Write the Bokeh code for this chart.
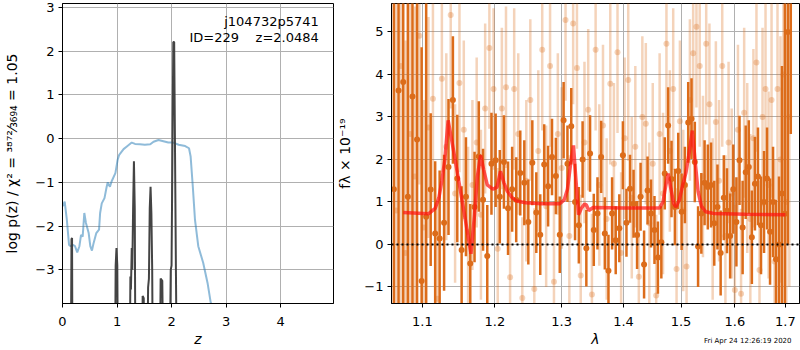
from bokeh.plotting import figure
from bokeh.layouts import row
from bokeh.models import (Range1d, FixedTicker, CustomJSTickFormatter, Label, Span,
                          ColumnDataSource, Title)
from bokeh.embed import file_html
from bokeh.resources import INLINE

FONT = "DejaVu Sans"

# ---------------- left panel: log p(z) ----------------
z_chi2 = [0.0, 0.04, 0.08, 0.12, 0.15, 0.19, 0.23, 0.27, 0.31, 0.34, 0.37, 0.40, 0.43, 0.48,
          0.51, 0.54, 0.57, 0.62, 0.67, 0.69, 0.72, 0.77, 0.81, 0.83, 0.87, 0.90, 0.97, 1.01,
          1.04, 1.12, 1.18, 1.27, 1.33, 1.42, 1.51, 1.61, 1.67, 1.76, 1.85, 1.94, 2.03, 2.13,
          2.25, 2.32, 2.35, 2.39, 2.43, 2.49, 2.58, 2.66, 2.72, 2.85]
logp_chi2 = [-1.55, -1.44, -1.86, -2.43, -2.46, -2.43, -2.46, -2.60, -2.46, -2.20, -2.24, -1.70,
             -1.93, -2.16, -2.46, -2.56, -2.39, -2.16, -2.08, -1.70, -1.48, -1.36, -1.10, -1.00,
             -1.10, -0.98, -0.79, -0.49, -0.37, -0.24, -0.18, -0.09, -0.12, -0.13, -0.14, -0.13,
             -0.07, -0.03, -0.06, -0.09, -0.09, -0.14, -0.17, -0.22, -0.41, -1.10, -1.86, -2.46,
             -2.84, -3.30, -3.76, -4.60]

z_pz = [0.0, 0.15, 0.165, 0.175, 0.185, 0.96, 0.975, 0.99, 1.005, 1.02, 1.23, 1.245, 1.255,
        1.27, 1.28, 1.295, 1.31, 1.325, 1.34, 1.46, 1.47, 1.49, 1.50, 1.55, 1.57, 1.585, 1.60,
        1.615, 1.63, 1.645, 1.66, 1.78, 1.80, 1.83, 1.855, 1.96, 1.985, 2.0, 2.02, 2.032, 2.048,
        2.06, 2.08, 2.10, 5.0]
logp_pz = [-6, -6, -2.3, -2.27, -6, -6, -2.9, -2.5, -2.9, -6, -6, -3.15, -3.45, -2.5, -3.0,
           -1.6, -0.52, -1.6, -6, -6, -3.6, -3.65, -6, -6, -3.4, -3.2, -1.6, -1.1, -1.7, -3.0,
           -6, -6, -3.2, -3.25, -6, -6, -3.0, -2.9, 0.3, 2.21, 2.21, 0.3, -3.0, -6, -6]

z_ticks = [0, 1, 2, 3, 4]
logp_ticks = [-3, -2, -1, 0, 1, 2, 3]

# ---------------- right panel: spectrum ----------------
lam_a = [1.063, 1.069, 1.075, 1.081, 1.087, 1.093, 1.099, 1.105, 1.111, 1.117,
         1.123, 1.129, 1.135, 1.141, 1.147, 1.153, 1.159, 1.165, 1.171, 1.177,
         1.183, 1.189, 1.195, 1.201, 1.207, 1.213, 1.219, 1.225, 1.231, 1.237,
         1.243, 1.249, 1.255, 1.261, 1.267, 1.273, 1.279, 1.285, 1.291, 1.297,
         1.303, 1.309, 1.315, 1.321, 1.327, 1.333, 1.339, 1.345, 1.351, 1.357,
         1.363, 1.369, 1.375, 1.381, 1.387, 1.393, 1.399, 1.405, 1.411, 1.417,
         1.423, 1.429, 1.435, 1.441, 1.447, 1.453, 1.459, 1.465, 1.471, 1.477,
         1.483, 1.489, 1.495, 1.501, 1.507, 1.513, 1.519, 1.525, 1.531, 1.537,
         1.543, 1.549, 1.555, 1.561, 1.567, 1.573, 1.579, 1.585, 1.591, 1.597,
         1.603, 1.609, 1.615, 1.621, 1.627, 1.633, 1.639, 1.645, 1.651, 1.657,
         1.663, 1.669, 1.675, 1.681, 1.687, 1.693, 1.699, 1.705, 1.711]
flux_a = [1.30, 3.62, 3.82, 1.12, 3.48, 2.47, -0.86, 0.65, 1.29, 0.26,
          0.14, 0.51, 1.82, 3.40, 1.55, -0.13, 1.12, -0.45, 0.88, 2.07,
          1.05, -0.27, 1.90, 1.98, 1.12, 1.94, 0.85, 1.30, 1.05, 1.68,
          1.45, 0.53, 1.92, 0.75, 0.23, 1.88, 1.37, 2.06, 1.61, 0.23,
          2.92, 1.90, 2.78, 1.00, 0.45, 2.00, -0.09, 2.14, 0.34, 0.73,
          2.06, 0.26, -0.62, 0.73, 0.10, 0.38, 2.10, 0.51, 1.31, 0.96,
          0.22, 1.12, -0.47, 1.27, 0.73, 0.34, -0.31, 0.05, 1.67, 2.80,
          1.54, 0.88, 1.73, 0.77, 1.40, 2.87, 2.96, 1.94, -0.05, 0.73,
          1.45, 1.35, 1.40, 0.50, 0.88, -0.20, 1.10, 0.79, 0.20, 1.30,
          0.53, 1.98, 0.40, 1.70, 1.82, 0.17, 1.43, 1.60, 0.45, 1.00,
          1.55, 0.30, 1.00, -0.35, 0.00, 1.20, 0.72, 5.00, 6.00]
err_a = [8.0, 8.0, 7.5, 7.0, 6.5, 6.0, 5.5, 5.2, 1.8, 1.7,
         1.6, 1.6, 1.6, 1.5, 1.5, 1.5, 1.4, 1.4, 1.3, 1.3,
         1.2, 1.2, 1.2, 1.1, 1.1, 1.1, 1.1, 1.0, 1.0, 1.0,
         1.0, 1.0, 1.0, 0.95, 0.95, 0.95, 0.95, 0.9, 0.9, 0.9,
         0.9, 0.9, 0.9, 0.9, 0.9, 0.9, 0.9, 0.9, 0.85, 0.85,
         0.85, 0.85, 0.85, 0.85, 0.8, 0.8, 0.8, 0.8, 0.8, 0.8,
         0.8, 0.8, 0.8, 0.8, 0.8, 0.8, 0.85, 0.85, 0.85, 0.9,
         0.9, 0.9, 0.9, 0.9, 0.9, 0.95, 0.95, 0.95, 0.95, 0.95,
         1.0, 1.0, 1.0, 1.0, 1.0, 1.0, 1.0, 1.0, 1.0, 1.05,
         1.05, 1.05, 1.1, 1.1, 1.1, 1.1, 1.1, 1.15, 1.15, 1.2,
         1.2, 1.25, 1.3, 1.4, 1.6, 3.0, 5.0, 5.0, 3.4]

lam_b = [1.066, 1.072, 1.078, 1.084, 1.090, 1.096, 1.102, 1.108, 1.114, 1.120,
         1.126, 1.132, 1.138, 1.144, 1.150, 1.156, 1.162, 1.168, 1.174, 1.180,
         1.186, 1.192, 1.198, 1.204, 1.210, 1.216, 1.222, 1.228, 1.234, 1.240,
         1.246, 1.252, 1.258, 1.264, 1.270, 1.276, 1.282, 1.288, 1.294, 1.300,
         1.306, 1.312, 1.318, 1.324, 1.330, 1.336, 1.342, 1.348, 1.354, 1.360,
         1.366, 1.372, 1.378, 1.384, 1.390, 1.396, 1.402, 1.408, 1.414, 1.420,
         1.426, 1.432, 1.438, 1.444, 1.450, 1.456, 1.462, 1.468, 1.474, 1.480,
         1.486, 1.492, 1.498, 1.504, 1.510, 1.516, 1.522, 1.528, 1.534, 1.540,
         1.546, 1.552, 1.558, 1.564, 1.570, 1.576, 1.582, 1.588, 1.594, 1.600,
         1.606, 1.612, 1.618, 1.624, 1.630, 1.636, 1.642, 1.648, 1.654, 1.660,
         1.666, 1.672, 1.678, 1.684, 1.690, 1.696, 1.702, 1.708]
flux_b = [0.80, 4.20, -0.20, 2.60, 1.60, 4.91, 0.40, 2.75, 3.43, -1.28,
          3.90, 2.30, 5.40, 1.20, 3.80, 2.70, 0.30, 1.40, 2.40, 0.70,
          3.20, 4.62, 3.66, -0.10, 3.20, 3.70, -0.77, 3.66, 2.60, -1.26,
          1.50, 3.40, -1.05, 2.20, 4.58, 0.90, 4.20, -0.88, 2.60, 1.80,
          5.28, 0.20, 5.20, 4.15, -0.73, 2.40, 3.17, -1.18, 4.58, 1.40,
          2.80, 0.60, 3.78, 1.90, 4.52, -0.20, 2.50, 3.87, 1.10, 2.30,
          -0.76, 3.00, 2.84, 0.50, 1.90, -1.20, 2.60, 1.20, 4.72, 2.20,
          3.66, -0.58, 2.90, 0.80, -0.52, 3.40, 4.50, 5.12, 4.20, 1.60,
          4.72, 3.30, 0.60, 2.88, 1.50, 4.20, 0.20, 2.40, 1.20, -1.07,
          2.70, -1.16, 3.10, 1.80, 0.60, 2.50, 4.28, -0.60, 3.00, 3.66,
          1.40, 3.40, -0.40, 3.66, 2.00, 4.00, 1.00, 3.00]
err_b = [6.0, 6.0, 5.0, 4.5, 4.0, 3.5, 3.0, 2.6, 2.4, 2.3,
         2.2, 2.2, 2.2, 2.1, 2.1, 2.1, 2.0, 2.0, 2.0, 2.0,
         2.0, 1.9, 1.9, 1.9, 1.9, 1.9, 1.9, 1.9, 1.9, 1.9,
         1.9, 1.9, 1.9, 1.9, 1.9, 1.9, 1.9, 1.9, 1.9, 1.9,
         1.9, 1.9, 1.9, 1.9, 1.9, 1.9, 1.9, 1.9, 1.9, 1.9,
         1.9, 1.9, 1.9, 1.9, 1.9, 1.9, 1.9, 1.9, 1.9, 1.9,
         1.9, 1.9, 1.9, 1.9, 1.9, 1.9, 1.9, 1.9, 1.9, 1.9,
         1.9, 1.9, 1.9, 1.9, 1.9, 1.9, 1.9, 1.9, 1.9, 1.9,
         1.9, 1.9, 1.9, 1.9, 1.9, 1.9, 1.9, 1.9, 2.0, 2.0,
         2.0, 2.0, 2.0, 2.0, 2.0, 2.1, 2.1, 2.1, 2.1, 2.2,
         2.2, 2.3, 2.4, 2.6, 2.9, 3.3, 4.0, 4.0]

lam_model = [1.075, 1.108, 1.117, 1.122, 1.126, 1.130, 1.1345, 1.142, 1.150, 1.158, 1.166,
             1.171, 1.175, 1.1795, 1.184, 1.189, 1.197, 1.203, 1.208, 1.213, 1.218, 1.225,
             1.232, 1.245, 1.27, 1.297, 1.304, 1.309, 1.314, 1.3185, 1.322, 1.3265, 1.331,
             1.336, 1.339, 1.343, 1.35, 1.40, 1.462, 1.468, 1.473, 1.477, 1.482, 1.487, 1.491,
             1.497, 1.503, 1.509, 1.514, 1.5205, 1.526, 1.531, 1.537, 1.545, 1.56, 1.62, 1.70]
flux_model = [0.75, 0.72, 0.85, 1.1, 1.5, 2.0, 2.92, 2.2, 1.4, 0.6, -0.22,
              0.7, 1.6, 2.1, 1.75, 1.4, 1.30, 1.35, 1.72, 1.45, 1.25, 1.1,
              1.02, 0.98, 0.96, 0.96, 1.05, 1.3, 1.9, 2.33, 1.6, 0.7, 0.85,
              0.95, 0.93, 0.8, 0.87, 0.86, 0.86, 1.0, 1.4, 1.67, 1.3, 0.95, 0.88,
              1.05, 1.4, 1.7, 2.1, 2.68, 1.9, 1.25, 0.9, 0.77, 0.73, 0.71, 0.70]

lam_ticks = [1.1, 1.2, 1.3, 1.4, 1.5, 1.6, 1.7]
flux_ticks = [-1, 0, 1, 2, 3, 4, 5]

ORANGE = "#dc6c1a"
MINUS_FMT = "return tick < 0 ? '\u2212' + String(-tick) : String(tick);"
H = 349


def style(p):
    p.background_fill_color = "white"
    p.border_fill_color = "white"
    p.outline_line_color = "black"
    p.outline_line_width = 1
    p.outline_line_alpha = 1
    for ax in (p.xaxis[0], p.yaxis[0]):
        ax.major_label_text_font = FONT
        ax.major_label_text_font_size = "13px"
        ax.major_label_text_color = "black"
        ax.major_label_standoff = 4
        ax.axis_label_text_font = FONT
        ax.axis_label_text_font_size = "14px"
        ax.axis_label_text_color = "black"
        ax.axis_label_text_font_style = "normal"
        ax.major_tick_in = 0
        ax.major_tick_out = 4
        ax.minor_tick_in = 0
        ax.minor_tick_out = 0
        ax.major_tick_line_color = "black"
        ax.axis_line_color = "black"
    p.xaxis[0].major_label_standoff = 9
    p.xaxis[0].axis_label_standoff = 2
    p.xaxis[0].axis_label_text_font_style = "italic"
    p.grid.grid_line_color = "#b0b0b0"
    p.grid.grid_line_width = 1
    p.grid.grid_line_alpha = 1


# ----- left figure -----
p1 = figure(width=334, height=H, x_range=Range1d(0, 4.97), y_range=Range1d(-3.77, 3.09),
            output_backend="svg", toolbar_location=None,
            min_border_left=62, min_border_right=1, min_border_top=3, min_border_bottom=46)
style(p1)
p1.xaxis.ticker = FixedTicker(ticks=z_ticks)
p1.yaxis.ticker = FixedTicker(ticks=logp_ticks)
p1.yaxis.formatter = CustomJSTickFormatter(code=MINUS_FMT)
p1.xaxis.axis_label = "z"
p1.yaxis.axis_label = "log p(z) / \u03c7\u00b2 = \u00b3\u2078\u2077\u00b2\u2044\u2083\u2086\u2089\u2084 = 1.05"
p1.yaxis.axis_label_standoff = 12

p1.line(z_chi2, logp_chi2, line_color="#1f77b4", line_alpha=0.5, line_width=2)
p1.line(z_pz, logp_pz, line_color="#3a3a3a", line_alpha=0.95, line_width=2)

p1.add_layout(Label(x=4.70, y=2.67, text="j104732p5741", text_align="right",
                    text_baseline="middle", text_font=FONT, text_font_size="13px",
                    text_color="black"))
p1.add_layout(Label(x=4.70, y=2.32, text="ID=229\u00a0\u00a0\u00a0\u00a0z=2.0484",
                    text_align="right", text_baseline="middle", text_font=FONT,
                    text_font_size="13px", text_color="black"))

# ----- right figure -----
p2 = figure(width=466, height=H, x_axis_type="log", x_range=Range1d(1.06, 1.729),
            y_range=Range1d(-1.39, 5.67), output_backend="svg", toolbar_location=None,
            min_border_left=57, min_border_right=1, min_border_top=3, min_border_bottom=46)
style(p2)
p2.xaxis.ticker = FixedTicker(ticks=lam_ticks)
p2.xaxis.formatter = CustomJSTickFormatter(code="return tick.toFixed(1);")
p2.yaxis.ticker = FixedTicker(ticks=flux_ticks)
p2.yaxis.formatter = CustomJSTickFormatter(code=MINUS_FMT)
p2.xaxis.axis_label = "\u03bb"
p2.yaxis.axis_label = "f\u03bb \u00d7 10\u207b\u00b9\u2079"
p2.yaxis.axis_label_standoff = 8

src_b = ColumnDataSource(dict(
    x=[l for l, f, e in zip(lam_b, flux_b, err_b)],
    y=[f for l, f, e in zip(lam_b, flux_b, err_b)],
    lo=[f - e for l, f, e in zip(lam_b, flux_b, err_b)],
    hi=[f + e for l, f, e in zip(lam_b, flux_b, err_b)]))
src_a = ColumnDataSource(dict(
    x=[l for l, f, e in zip(lam_a, flux_a, err_a)],
    y=[f for l, f, e in zip(lam_a, flux_a, err_a)],
    lo=[f - e for l, f, e in zip(lam_a, flux_a, err_a)],
    hi=[f + e for l, f, e in zip(lam_a, flux_a, err_a)]))

p2.segment(x0="x", y0="lo", x1="x", y1="hi", source=src_b, line_color=ORANGE,
           line_alpha=0.3, line_width=2.5)
p2.scatter("x", "y", source=src_b, size=6, fill_color=ORANGE, fill_alpha=0.3,
           line_color=None)
p2.segment(x0="x", y0="lo", x1="x", y1="hi", source=src_a, line_color=ORANGE,
           line_alpha=1.0, line_width=2.5)
p2.scatter("x", "y", source=src_a, size=6, fill_color=ORANGE, fill_alpha=1.0,
           line_color=None)
p2.line(lam_model, flux_model, line_color="#ff1010", line_alpha=0.7, line_width=3.5)
p2.add_layout(Span(location=0, dimension="width", line_color="black", line_width=2,
                   line_dash="2 3"))

p2.add_layout(Title(text="Fri Apr 24 12:26:19 2020", align="right", offset=8,
                    vertical_align="top", standoff=-26, text_font=FONT,
                    text_font_size="7px", text_font_style="normal",
                    text_color="black"), "below")

layout = row(p1, p2)
open("out.html", "w").write(file_html(layout, INLINE))
